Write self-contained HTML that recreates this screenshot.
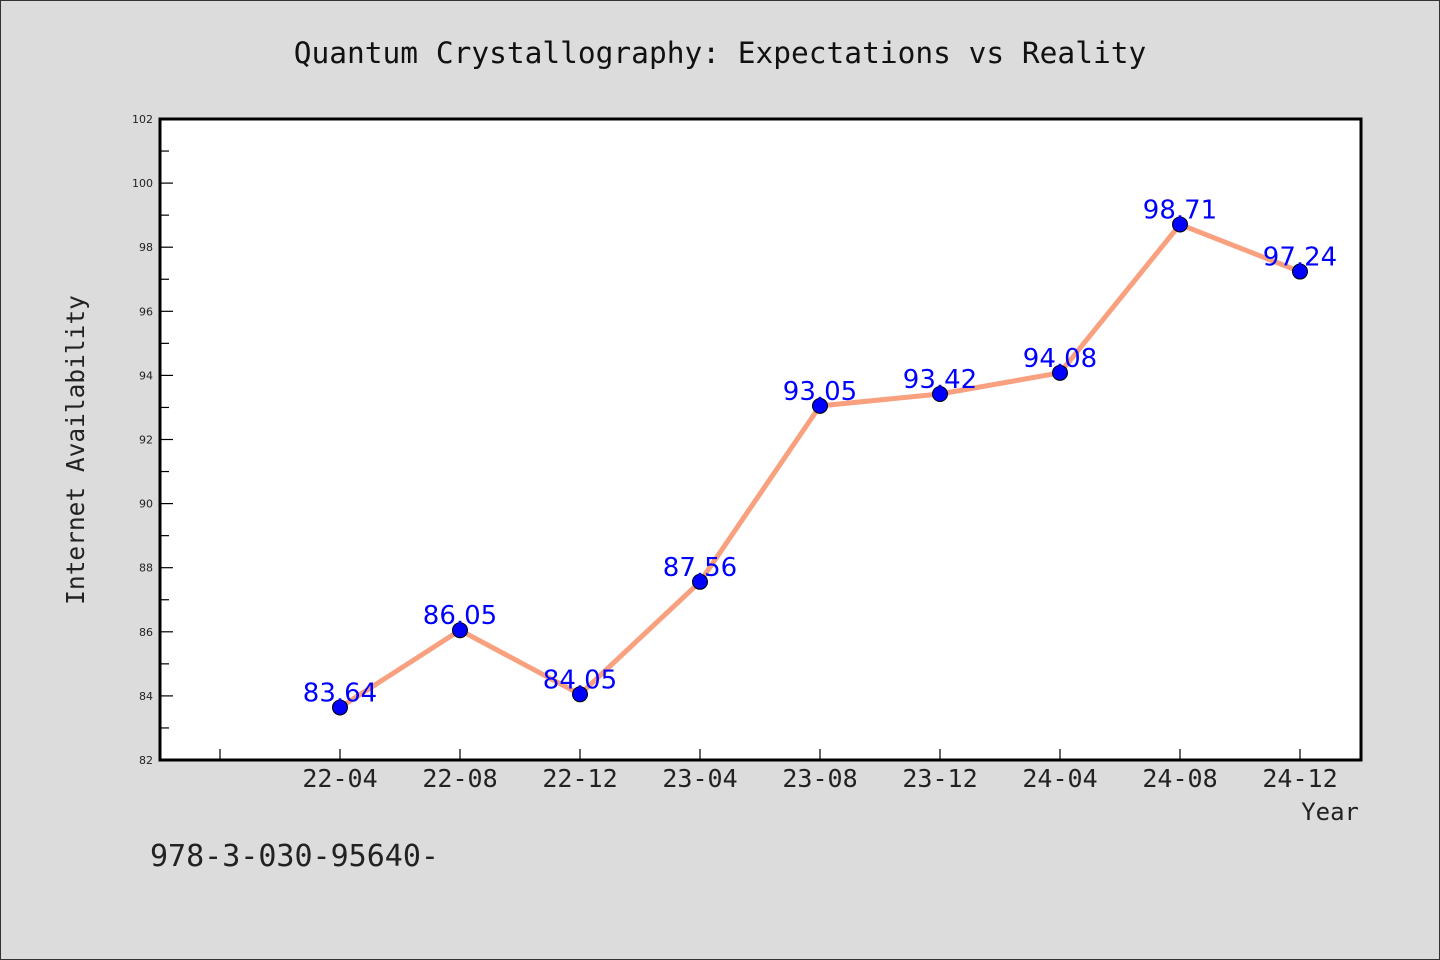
<!DOCTYPE html>
<html><head><meta charset="utf-8"><style>
body{margin:0;background:#dcdcdc;}
svg{display:block;font-family:"WenQuanYi Zen Hei Mono","DejaVu Sans Mono","Liberation Mono",monospace;}
.val{font-family:"DejaVu Sans","Liberation Sans",sans-serif;}
</style></head><body>
<svg id="chart" width="1440" height="960">
<rect x="0.5" y="0.5" width="1439" height="959" fill="#dcdcdc" stroke="#333"/>
<text x="720" y="63" text-anchor="middle" font-size="29.5" fill="#111">Quantum Crystallography: Expectations vs Reality</text>
<rect x="160" y="119" width="1201" height="641" fill="#fff"/>
<g id="axes"></g>
<g id="series"></g>
<rect x="160" y="119" width="1201" height="641" fill="none" stroke="#000" stroke-width="3"/>
<text x="84" y="450" text-anchor="middle" font-size="24.5" fill="#222" transform="rotate(-90 84 450)">Internet Availability</text>
<text x="1359" y="820" text-anchor="end" font-size="24" fill="#222">Year</text>
<text x="150" y="866" font-size="30" fill="#222">978-3-030-95640-</text>
</svg>
<script>
const categories=["22-04","22-08","22-12","23-04","23-08","23-12","24-04","24-08","24-12"];
const values=[83.64,86.05,84.05,87.56,93.05,93.42,94.08,98.71,97.24];
const labels=["83.64","86.05","84.05","87.56","93.05","93.42","94.08","98.71","97.24"];
const yTicks=[82,84,86,88,90,92,94,96,98,100,102];
const NS="http://www.w3.org/2000/svg";
const L=160,R=1361,T=119,B=760,yMin=82,yMax=102;
function y(v){return B-(v-yMin)/(yMax-yMin)*(B-T);}
function x(i){return 340+i*120;}
function mk(tag,attrs,parent){const e=document.createElementNS(NS,tag);for(const k in attrs)e.setAttribute(k,attrs[k]);parent.appendChild(e);return e;}
const ax=document.getElementById('axes'),se=document.getElementById('series');
yTicks.forEach((v,i)=>{
 const t=mk('line',{x1:L,x2:L+13,y1:y(v),y2:y(v),stroke:'#000','stroke-width':1.2},ax);
 
 
 const tx=mk('text',{x:L-7,y:y(v)+4,'text-anchor':'end','font-size':11,fill:'#222',class:'val'},ax);
 tx.textContent=v;
 
 
 if(i<yTicks.length-1){
  const m=mk('line',{x1:L,x2:L+9,y1:y(v+1),y2:y(v+1),stroke:'#000','stroke-width':1.2},ax);
  
  
 }
});
for(let i=-1;i<categories.length;i++){
 const t=mk('line',{x1:x(i),x2:x(i),y1:B,y2:B-11,stroke:'#000','stroke-width':1.2},ax);
 
 
 if(i>=0){
  const tx=mk('text',{x:x(i),y:B+27,'text-anchor':'middle','font-size':25,fill:'#222'},ax);
  tx.textContent=categories[i];
  
  
 }
}
const pl=mk('polyline',{points:values.map((v,i)=>x(i)+','+y(v)).join(' '),fill:'none',stroke:'#f9a07f','stroke-width':5,'stroke-linejoin':'round'},se);


values.forEach((v,i)=>{
 const c=mk('circle',{cx:x(i),cy:y(v),r:7.5,fill:'#0000ff',stroke:'#000','stroke-width':1},se);
 
 
});
values.forEach((v,i)=>{
 const t=mk('text',{x:x(i),y:y(v)-6,'text-anchor':'middle','font-size':26,fill:'#0000ff',class:'val'},se);
 t.textContent=labels[i];
 
 
});
</script>
</body></html>
